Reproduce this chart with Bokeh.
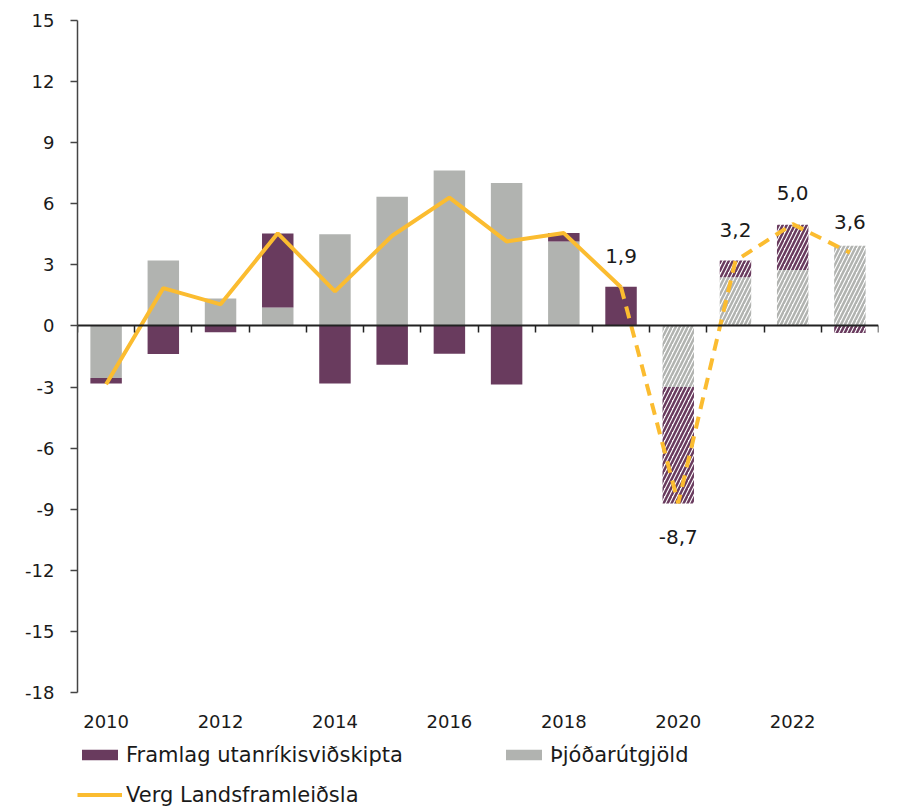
import numpy as np
from bokeh.plotting import figure
from bokeh.models import ColumnDataSource, LinearAxis, FixedTicker, Legend, LegendItem
from bokeh.core.properties import value
from bokeh.embed import file_html
from bokeh.resources import INLINE

# ---- data ----
years = [2010, 2011, 2012, 2013, 2014, 2015, 2016, 2017, 2018, 2019, 2020, 2021, 2022, 2023]
domestic = [-2.55, 3.21, 1.35, 0.91, 4.50, 6.34, 7.64, 7.02, 4.15, 0.0, -3.0, 2.39, 2.75, 3.94]   # Þjóðarútgjöld
external = [-0.27, -1.38, -0.31, 3.63, -2.82, -1.90, -1.37, -2.88, 0.41, 1.92, -5.72, 0.82, 2.22, -0.34]  # Framlag utanríkisviðskipta
gdp = [-2.86, 1.86, 1.06, 4.55, 1.70, 4.43, 6.30, 4.15, 4.56, 1.9, -8.7, 3.2, 5.0, 3.6]  # Verg Landsframleiðsla
forecast_start = 2020
label_years = [2019, 2020, 2021, 2022, 2023]
label_texts = ["1,9", "-8,7", "3,2", "5,0", "3,6"]
x_label_years = [2010, 2012, 2014, 2016, 2018, 2020, 2022]
y_ticks = [-18, -15, -12, -9, -6, -3, 0, 3, 6, 9, 12, 15]

PURPLE = "#693B5E"
GRAY = "#B1B3B0"
YELLOW = "#FBBC30"
FONT = "DejaVu Sans"
TXT = "#1a1a1a"

yrs = np.array(years, dtype=float)
g = np.array(domestic)
u = np.array(external)
ub = np.where(np.sign(u) == np.sign(g), g, 0.0)
ut = ub + u
fc = yrs >= forecast_start
ac = ~fc

src_g_a = ColumnDataSource(dict(x=yrs[ac], top=g[ac], bottom=np.zeros(ac.sum())))
src_u_a = ColumnDataSource(dict(x=yrs[ac], top=ut[ac], bottom=ub[ac]))
src_g_f = ColumnDataSource(dict(x=yrs[fc], top=g[fc], bottom=np.zeros(fc.sum())))
src_u_f = ColumnDataSource(dict(x=yrs[fc], top=ut[fc], bottom=ub[fc]))

# geometry: data area x 77..878 px, y 20 (=15) .. 692 (=-18); frame extended down for legend room
X0, X1 = years[0] - 0.5, years[-1] + 0.5
Y0, Y1 = y_ticks[0], y_ticks[-1]
px_y = (Y1 - Y0) / 672.0
W_FIG, H_FIG = 891, 807
y_start = Y0 - (H_FIG - 692) * px_y

p = figure(width=W_FIG, height=H_FIG, x_range=(X0, X1), y_range=(y_start, Y1),
           output_backend="svg", toolbar_location=None, x_axis_type=None, y_axis_type=None,
           min_border_left=77, min_border_right=W_FIG - 878, min_border_top=20,
           min_border_bottom=0)
p.outline_line_color = None
p.background_fill_color = "white"

W = 0.55
r_g = p.vbar(x="x", top="top", bottom="bottom", width=W, source=src_g_a, fill_color=GRAY, line_color=None)
r_u = p.vbar(x="x", top="top", bottom="bottom", width=W, source=src_u_a, fill_color=PURPLE, line_color=None)
p.vbar(x="x", top="top", bottom="bottom", width=W, source=src_g_f, fill_color=None, line_color=None,
       hatch_pattern="/", hatch_color=GRAY, hatch_scale=8, hatch_weight=2.5)
p.vbar(x="x", top="top", bottom="bottom", width=W, source=src_u_f, fill_color=None, line_color=None,
       hatch_pattern="/", hatch_color=PURPLE, hatch_scale=8, hatch_weight=2.5)

# zero axis with boundary ticks
zero_axis = LinearAxis(fixed_location=0, bounds=(X0, X1),
                       ticker=FixedTicker(ticks=list(np.arange(X0, X1 + 0.5, 1.0))))
zero_axis.axis_line_color = "#222222"
zero_axis.axis_line_width = 2
zero_axis.major_tick_line_color = "#222222"
zero_axis.major_tick_line_width = 1.5
zero_axis.major_tick_in = 0
zero_axis.major_tick_out = 7
zero_axis.minor_tick_line_color = None
zero_axis.major_label_text_color = None
p.add_layout(zero_axis, "below")

# year labels axis (labels only) at bottom of data area
xa = LinearAxis(fixed_location=Y0, ticker=FixedTicker(ticks=x_label_years))
xa.axis_line_color = None
xa.major_tick_line_color = None
xa.minor_tick_line_color = None
xa.major_tick_out = 0
xa.major_tick_in = 0
xa.major_label_standoff = 22
xa.major_label_text_font = FONT
xa.major_label_text_font_size = "18px"
xa.major_label_text_color = TXT
p.add_layout(xa, "below")

# y axis
ya = LinearAxis(bounds=(Y0, Y1), ticker=FixedTicker(ticks=y_ticks))
ya.major_label_overrides = {t: str(t) for t in y_ticks}
ya.axis_line_color = "#444444"
ya.axis_line_width = 1.5
ya.major_tick_line_color = "#444444"
ya.major_tick_line_width = 1.5
ya.major_tick_in = 0
ya.major_tick_out = 7
ya.minor_tick_line_color = None
ya.major_label_standoff = 16
ya.major_label_text_font = FONT
ya.major_label_text_font_size = "18px"
ya.major_label_text_color = TXT
p.add_layout(ya, "left")

# GDP line
sol = yrs <= 2019
das = yrs >= 2019
gd = np.array(gdp)
r_l = p.line(yrs[sol], gd[sol], line_color=YELLOW, line_width=4)
p.line(yrs[das], gd[das], line_color=YELLOW, line_width=4, line_dash="12 8")

# data labels
lab_y = [gdp[years.index(yv)] for yv in label_years]
offs = [-31 if v > 0 else 34 for v in lab_y]
src_lab = ColumnDataSource(dict(x=label_years, y=lab_y, t=label_texts, off=offs))
p.text(x="x", y="y", text="t", y_offset="off", source=src_lab, text_align="center",
       text_baseline="middle", text_font=value(FONT), text_font_size="20px", text_color=TXT)

legend = Legend(items=[LegendItem(label="Framlag utanríkisviðskipta", renderers=[r_u]),
                       LegendItem(label="Þjóðarútgjöld", renderers=[r_g]),
                       LegendItem(label="Verg Landsframleiðsla", renderers=[r_l])],
                orientation="horizontal", ncols=2, location=(0, 0),
                glyph_width=45, glyph_height=13, label_height=25, label_width=360,
                spacing=15, label_standoff=4, padding=0, margin=0,
                border_line_color=None, background_fill_alpha=0,
                label_text_font=FONT, label_text_font_size="21px", label_text_color=TXT)
p.add_layout(legend, "center")

open("out.html", "w").write(file_html(p, INLINE))
